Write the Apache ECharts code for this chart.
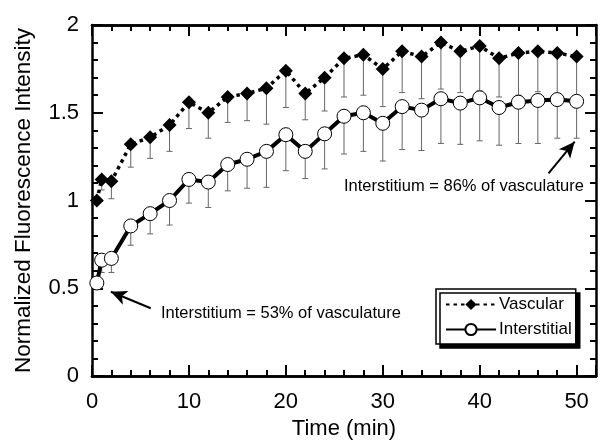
<!DOCTYPE html>
<html>
<head>
<meta charset="utf-8">
<script src="https://cdn.jsdelivr.net/npm/echarts@6/dist/echarts.min.js"></script>
<style>html,body{margin:0;padding:0;background:#fff}#c{width:600px;height:441px}</style>
</head>
<body>
<div id="c"></div>
<script>
// ---- data ----
const time = [0.5, 1, 2, 4, 6, 8, 10, 12, 14, 16, 18, 20, 22, 24, 26, 28, 30, 32, 34, 36, 38, 40, 42, 44, 46, 48, 50];
const vascular = [1.00, 1.12, 1.11, 1.32, 1.36, 1.43, 1.56, 1.50, 1.59, 1.61, 1.64, 1.74, 1.61, 1.70, 1.81, 1.83, 1.75, 1.85, 1.82, 1.90, 1.85, 1.88, 1.81, 1.84, 1.85, 1.84, 1.82];
const vascularLower = [null, 1.06, 1.01, 1.19, 1.24, 1.28, 1.41, 1.355, 1.445, 1.455, 1.435, 1.53, 1.46, 1.51, 1.59, 1.60, 1.535, 1.615, 1.58, 1.635, 1.615, 1.625, 1.59, 1.60, 1.62, 1.61, 1.60];
const interstitial = [0.53, 0.66, 0.67, 0.855, 0.925, 1.00, 1.12, 1.105, 1.205, 1.235, 1.28, 1.375, 1.28, 1.38, 1.48, 1.50, 1.44, 1.535, 1.515, 1.58, 1.555, 1.585, 1.53, 1.56, 1.57, 1.575, 1.565];
const interstitialLower = [null, 0.59, 0.59, 0.745, 0.81, 0.86, 0.985, 0.96, 1.055, 1.07, 1.075, 1.17, 1.125, 1.18, 1.265, 1.28, 1.225, 1.29, 1.285, 1.325, 1.32, 1.34, 1.315, 1.325, 1.325, 1.355, 1.355];
const xTicksMajor = [0, 10, 20, 30, 40, 50];
const yTicks = [0, 0.5, 1, 1.5, 2];
const seriesNames = ['Vascular', 'Interstitial'];
const annotationTexts = ['Interstitium = 53% of vasculature', 'Interstitium = 86% of vasculature'];
const arrowLow = [[6.06, 0.386], [1.95, 0.48]];
const arrowHigh = [[47.1, 1.155], [49.8, 1.335]];

const FONT = '"Liberation Sans", Arial, Helvetica, sans-serif';
const chart = echarts.init(document.getElementById('c'), null, {renderer: 'canvas'});

function errData(lower, upper) {
  const out = [];
  time.forEach((t, i) => { if (lower[i] != null) out.push([t, lower[i], upper[i]]); });
  return out;
}
function errRender(params, api) {
  const x = api.value(0), lo = api.value(1), hi = api.value(2);
  const p1 = api.coord([x, hi]);
  const p2 = api.coord([x, lo]);
  const c = 3;
  return {
    type: 'group',
    children: [
      {type: 'line', shape: {x1: p1[0], y1: p1[1], x2: p2[0], y2: p2[1]}, style: {stroke: '#666', lineWidth: 1}},
      {type: 'line', shape: {x1: p2[0] - c, y1: p2[1], x2: p2[0] + c, y2: p2[1]}, style: {stroke: '#666', lineWidth: 1}}
    ]
  };
}

const axisLine = {show: true, onZero: false, lineStyle: {color: '#000', width: 2.5}};
function xAxisDef(pos, interval, major) {
  return {
    type: 'value', position: pos, min: 0, max: 52, interval: interval,
    axisLine: axisLine,
    axisTick: {show: true, inside: true, length: major ? 11 : 6, lineStyle: {color: '#000', width: 2}},
    axisLabel: {show: major && pos === 'bottom', fontSize: 22, fontFamily: FONT, color: '#000', margin: 15,
      formatter: v => xTicksMajor.indexOf(v) >= 0 ? String(v) : ''},
    splitLine: {show: false},
    name: (major && pos === 'bottom') ? 'Time (min)' : '',
    nameLocation: 'middle', nameGap: 40,
    nameTextStyle: {fontSize: 22, fontFamily: FONT, color: '#000'}
  };
}
function yAxisDef(pos) {
  return {
    type: 'value', position: pos, min: 0, max: 2, interval: 0.5,
    axisLine: axisLine,
    axisTick: {show: true, inside: true, length: 11, lineStyle: {color: '#000', width: 2}},
    minorTick: {show: true, splitNumber: 5, length: 6, lineStyle: {color: '#000', width: 2}},
    axisLabel: {show: pos === 'left', fontSize: 22, fontFamily: FONT, color: '#000', margin: 13,
      formatter: v => yTicks.indexOf(v) >= 0 ? String(v) : ''},
    splitLine: {show: false},
    name: pos === 'left' ? 'Normalized Fluorescence Intensity' : '',
    nameLocation: 'middle', nameGap: 57,
    nameTextStyle: {fontSize: 22.5, fontFamily: FONT, color: '#000'}
  };
}

const option = {
  animation: false,
  backgroundColor: '#fff',
  grid: {left: 92, right: 4, top: 25, bottom: 65, containLabel: false, outerBoundsMode: 'none'},
  xAxis: [xAxisDef('bottom', 10, true), xAxisDef('bottom', 2, false), xAxisDef('top', 10, true), xAxisDef('top', 2, false)],
  yAxis: [yAxisDef('left'), yAxisDef('right')],
  legend: {
    orient: 'vertical', left: 436, top: 289,
    data: seriesNames,
    backgroundColor: '#fff', borderColor: '#000', borderWidth: 1.5,
    shadowColor: '#000', shadowBlur: 0, shadowOffsetX: 4, shadowOffsetY: 4,
    padding: [7, 4, 6, 9], itemWidth: 50, itemHeight: 14, itemGap: 8,
    textStyle: {fontSize: 17, fontFamily: FONT, color: '#000', padding: [0, 0, 0, -2]}
  },
  graphic: [
    {type: 'text', left: 161, top: 305, style: {text: annotationTexts[0], font: '16.5px ' + FONT, fill: '#000'}},
    {type: 'text', left: 344, top: 178, style: {text: annotationTexts[1], font: '16.5px ' + FONT, fill: '#000'}}
  ],
  series: [
    {type: 'custom', name: 'vErr', xAxisIndex: 0, yAxisIndex: 0, renderItem: errRender,
      data: errData(vascularLower, vascular), z: 1, silent: true},
    {type: 'custom', name: 'iErr', xAxisIndex: 0, yAxisIndex: 0, renderItem: errRender,
      data: errData(interstitialLower, interstitial), z: 1, silent: true},
    {type: 'line', name: seriesNames[0], xAxisIndex: 0, yAxisIndex: 0,
      data: time.map((t, i) => [t, vascular[i]]),
      symbol: 'diamond', symbolSize: 14, showAllSymbol: true,
      lineStyle: {color: '#000', width: 3.5, type: [3.5, 4]},
      itemStyle: {color: '#000', borderColor: '#000', borderWidth: 0}, z: 3},
    {type: 'line', name: seriesNames[1], xAxisIndex: 0, yAxisIndex: 0,
      data: time.map((t, i) => [t, interstitial[i]]),
      symbol: 'circle', symbolSize: 14, showAllSymbol: true,
      lineStyle: {color: '#000', width: 4},
      itemStyle: {color: '#fff', borderColor: '#000', borderWidth: 1}, z: 4,
      markLine: {
        silent: true, symbol: ['none', 'arrow'], symbolSize: [11, 16],
        lineStyle: {color: '#000', width: 2, type: 'solid'},
        label: {show: false},
        data: [
          [{coord: arrowLow[0]}, {coord: arrowLow[1]}],
          [{coord: arrowHigh[0]}, {coord: arrowHigh[1]}]
        ]
      }}
  ]
};
chart.setOption(option);
</script>
</body>
</html>
